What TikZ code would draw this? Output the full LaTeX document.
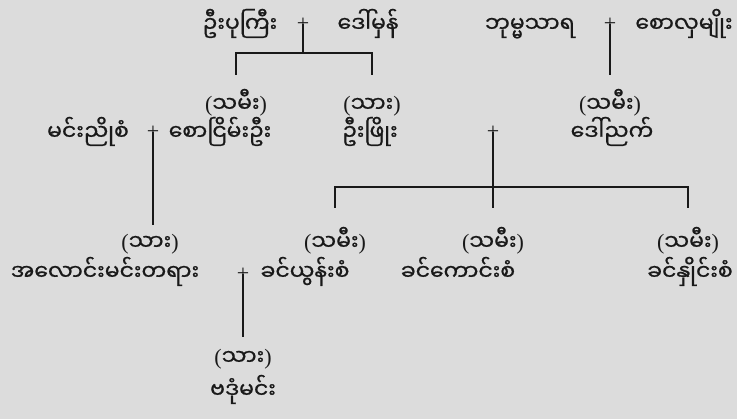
\documentclass[tikz,border=0pt]{standalone}
\usepackage{fontspec}
\setmainfont{Liberation Serif}
\newfontfamily\my[Script=Myanmar,FakeBold=0.8]{Noto Sans Myanmar UI}
\definecolor{bgc}{RGB}{220,220,220}
\definecolor{ink}{RGB}{25,25,25}
\begin{document}
\begin{tikzpicture}[x=1pt,y=-1pt,
  nm/.style={font=\my\fontsize{22}{26}\selectfont, text=ink, inner sep=0pt, anchor=base},
  lab/.style={font=\my\fontsize{22}{26}\selectfont, text=ink, inner sep=0pt, anchor=base},
  pl/.style={font=\fontsize{22}{26}\selectfont, text=ink, inner sep=0pt},
  ln/.style={draw=ink, line width=1.3pt}]
\fill[bgc] (0,0) rectangle (737,419);
\useasboundingbox (0,0) rectangle (737,419);
% row 1
\node[nm] (upuk) at (240,32) {ဦးပုကြီး};
\node[pl] (p1) at (303,24) {+};
\node[nm] (dmhan) at (368,32) {ဒေါ်မှန်};
\node[nm] (bhum) at (530,32) {ဘုမ္မသာရ};
\node[pl] (p2) at (610,24) {+};
\node[nm] (slm) at (684,32) {စောလှမျိုး};
% row 2 labels
\node[lab] (l1) at (236,112) {{\rmfamily(}သမီး{\rmfamily)}};
\node[lab] (l2) at (372,112) {{\rmfamily(}သား{\rmfamily)}};
\node[lab] (l3) at (610,112) {{\rmfamily(}သမီး{\rmfamily)}};
% row 2 names
\node[nm] (mnys) at (88,140) {မင်းညိုစံ};
\node[pl] (p3) at (153,132) {+};
\node[nm] (sny) at (220,140) {စောငြိမ်းဦး};
\node[nm] (upy) at (370,140) {ဦးဖြိုး};
\node[pl] (p4) at (493,132) {+};
\node[nm] (dnk) at (612,140) {ဒေါ်ညက်};
% row 3 labels
\node[lab] (l4) at (150,250) {{\rmfamily(}သား{\rmfamily)}};
\node[lab] (l5) at (335,250) {{\rmfamily(}သမီး{\rmfamily)}};
\node[lab] (l6) at (493,250) {{\rmfamily(}သမီး{\rmfamily)}};
\node[lab] (l7) at (688,250) {{\rmfamily(}သမီး{\rmfamily)}};
% row 3 names
\node[nm] (alp) at (105,280) {အလောင်းမင်းတရား};
\node[pl] (p5) at (243,274) {+};
\node[nm] (kys) at (305,280) {ခင်ယွန်းစံ};
\node[nm] (kks) at (458,280) {ခင်ကောင်းစံ};
\node[nm] (khs) at (690,280) {ခင်နှိုင်းစံ};
% row 4
\node[lab] (l8) at (243,365) {{\rmfamily(}သား{\rmfamily)}};
\node[nm] (bdm) at (243,398) {ဗဒုံမင်း};
% connectors
\draw[ln] (p1.center) -- (p1.center |- 0,53);
\draw[ln] (l1.center |- 0,75) |- (l2.center |- 0,53) -- (l2.center |- 0,75);
\draw[ln] (p2.center) -- (p2.center |- 0,75);
\draw[ln] (p3.center) -- (p3.center |- 0,225);
\draw[ln] (p4.center) -- (p4.center |- 0,208);
\draw[ln] (l5.center |- 0,208) |- (l7.center |- 0,187) -- (l7.center |- 0,208);
\draw[ln] (p5.center) -- (p5.center |- 0,337);
\end{tikzpicture}
\end{document}
